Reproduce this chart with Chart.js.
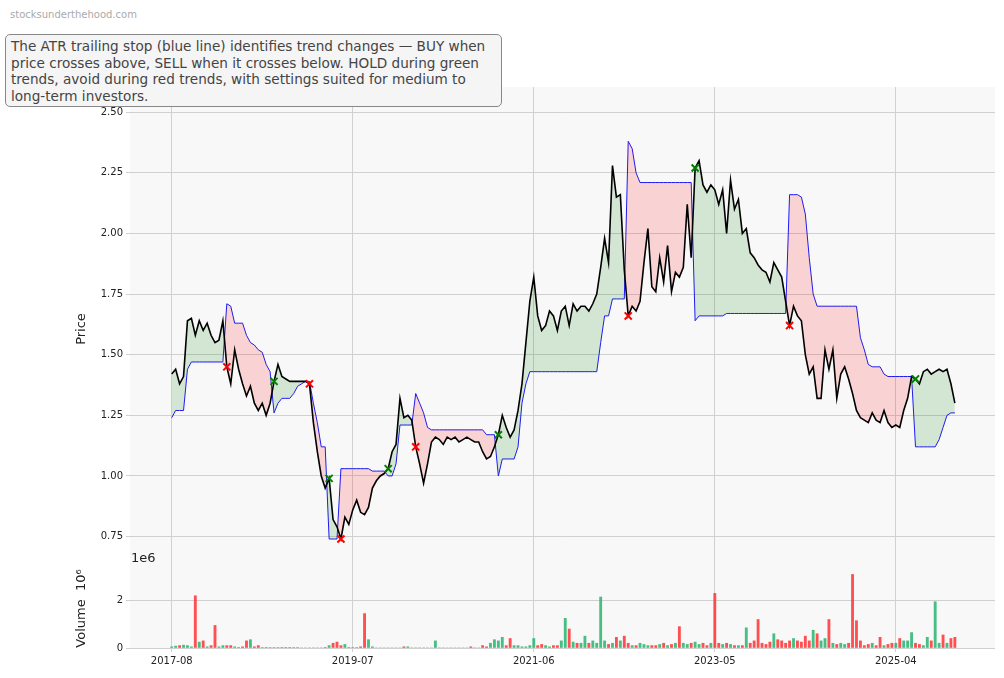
<!DOCTYPE html>
<html><head><meta charset="utf-8">
<script src="https://cdn.jsdelivr.net/npm/chart.js@4"></script>
<style>
body{margin:0;background:#fff;width:1004px;height:678px;position:relative;overflow:hidden;font-family:"DejaVu Sans",sans-serif}
#wm{position:absolute;left:10px;top:9px;font-size:10px;color:#aaa}
#note{position:absolute;left:5px;top:34px;width:485px;padding:3px 5px 2px 5px;border:1px solid #888;border-radius:5px;background:#f5f5f5;font-size:13.6px;line-height:16.5px;color:#444}
#e6{position:absolute;left:131px;top:550px;font-size:13px;color:#222}
canvas{position:absolute;left:0}
</style></head><body>
<div id="wm">stocksunderthehood.com</div>
<canvas id="pc" style="top:0" width="1004" height="580"></canvas>
<canvas id="vc" style="top:560px" width="1004" height="110"></canvas>
<div id="note">The ATR trailing stop (blue line) identifies trend changes — BUY when price crosses above, SELL when it crosses below. HOLD during green trends, avoid during red trends, with settings suited for medium to long-term investors.</div>
<div id="e6">1e6</div>
<script>
const tickLabels=['2017-08','2019-07','2021-06','2023-05','2025-04'];
const price=[1.42,1.44,1.38,1.41,1.64,1.65,1.58,1.64,1.60,1.63,
1.58,1.55,1.56,1.64,1.45,1.38,1.52,1.44,1.38,1.33,
1.37,1.30,1.27,1.30,1.25,1.30,1.39,1.46,1.41,1.40,
1.39,1.39,1.39,1.39,1.39,1.38,1.22,1.10,1.00,0.95,
0.99,0.82,0.79,0.74,0.83,0.80,0.86,0.90,0.85,0.84,
0.87,0.95,0.98,1.00,1.01,1.03,1.10,1.13,1.32,1.24,
1.25,1.23,1.12,1.05,0.97,1.05,1.14,1.16,1.15,1.13,
1.16,1.15,1.16,1.14,1.15,1.16,1.15,1.14,1.14,1.10,
1.07,1.08,1.12,1.17,1.25,1.20,1.16,1.19,1.27,1.38,
1.55,1.72,1.82,1.66,1.60,1.62,1.68,1.66,1.60,1.68,
1.70,1.62,1.71,1.68,1.70,1.70,1.68,1.71,1.75,1.86,
1.98,1.88,2.28,2.15,2.16,1.85,1.66,1.70,1.68,1.72,
1.88,2.02,1.78,1.76,1.90,1.80,1.95,1.76,1.84,1.82,
1.86,2.12,1.90,2.27,2.30,2.20,2.17,2.20,2.18,2.12,
2.18,2.00,2.22,2.10,2.14,2.00,2.02,1.92,1.90,1.87,
1.85,1.84,1.80,1.88,1.85,1.82,1.72,1.62,1.70,1.66,
1.64,1.50,1.42,1.45,1.32,1.32,1.52,1.44,1.52,1.32,
1.42,1.45,1.40,1.34,1.27,1.24,1.23,1.22,1.26,1.23,
1.22,1.27,1.22,1.20,1.21,1.20,1.27,1.32,1.41,1.40,
1.38,1.43,1.44,1.42,1.43,1.44,1.43,1.44,1.38,1.30];
const stop=[1.24,1.27,1.27,1.27,1.44,1.47,1.47,1.47,1.47,1.47,
1.47,1.47,1.47,1.47,1.71,1.70,1.63,1.63,1.63,1.58,
1.55,1.54,1.52,1.51,1.46,1.43,1.26,1.30,1.32,1.32,
1.32,1.34,1.37,1.38,1.39,1.39,1.30,1.22,1.12,1.12,
0.74,0.74,0.74,1.03,1.03,1.03,1.03,1.03,1.03,1.03,
1.03,1.02,1.02,1.02,1.02,1.00,1.00,1.05,1.21,1.21,
1.21,1.21,1.34,1.30,1.26,1.20,1.19,1.19,1.19,1.19,
1.19,1.19,1.19,1.19,1.19,1.19,1.19,1.19,1.19,1.19,
1.17,1.17,1.17,1.00,1.07,1.07,1.07,1.07,1.12,1.30,
1.38,1.43,1.43,1.43,1.43,1.43,1.43,1.43,1.43,1.43,
1.43,1.43,1.43,1.43,1.43,1.43,1.43,1.43,1.43,1.55,
1.66,1.66,1.73,1.73,1.73,1.73,2.38,2.35,2.25,2.21,
2.21,2.21,2.21,2.21,2.21,2.21,2.21,2.21,2.21,2.21,
2.21,2.21,2.21,1.64,1.66,1.66,1.66,1.66,1.66,1.66,
1.66,1.67,1.67,1.67,1.67,1.67,1.67,1.67,1.67,1.67,
1.67,1.67,1.67,1.67,1.67,1.67,1.67,2.16,2.16,2.16,
2.15,2.08,1.90,1.75,1.70,1.70,1.70,1.70,1.70,1.70,
1.70,1.70,1.70,1.70,1.70,1.57,1.52,1.46,1.45,1.45,
1.45,1.42,1.41,1.41,1.41,1.41,1.41,1.41,1.41,1.12,
1.12,1.12,1.12,1.12,1.12,1.15,1.20,1.25,1.26,1.26];
const volume=[0.05,0.08,0.1,0.12,0.1,0.05,2.2,0.25,0.3,0.05,
0.1,0.95,0.05,0.1,0.1,0.1,0.05,0.02,0.05,0.3,
0.35,0.05,0.1,0.02,0.02,0.02,0.02,0.02,0.02,0.02,
0.02,0.02,0.02,0,0,0,0,0,0,0.02,
0.1,0.2,0.25,0.1,0.15,0.02,0.02,0.02,0.05,1.45,
0.35,0.05,0,0,0,0,0,0,0,0.05,
0.05,0,0,0,0,0,0,0.3,0,0,
0,0,0,0,0,0,0.05,0,0,0.1,
0.05,0.2,0.35,0.3,0.45,0.1,0.4,0.1,0.1,0.05,
0.05,0.1,0.4,0.1,0.15,0.1,0.05,0.1,0.1,0.3,
1.25,0.8,0.25,0.2,0.2,0.5,0.2,0.3,0.2,2.15,
0.3,0.15,0.2,0.45,0.3,0.5,0.2,0.1,0.1,0.2,
0.15,0.1,0.1,0.1,0.15,0.2,0.1,0.15,0.2,0.9,
0.2,0.15,0.2,0.25,0.15,0.2,0.1,0.2,2.3,0.2,
0.15,0.2,0.15,0.1,0.1,0.1,0.85,0.2,0.3,1.2,
0.2,0.15,0.25,0.6,0.35,0.3,0.2,0.3,0.4,0.3,
0.25,0.5,0.3,0.75,0.6,0.3,0.4,1.2,0.2,0.15,
0.2,0.15,0.2,3.1,1.15,0.3,0.1,0.15,0.2,0.1,
0.45,0.1,0.15,0.2,0.2,0.4,0.3,0.3,0.65,0.2,
0.15,0.1,0.45,0.3,1.95,0.2,0.55,0.2,0.4,0.45];
const months=price.map((_,i)=>i*0.5);

const buys=[],sells=[];
for(let i=1;i<price.length;i++){
  const a=price[i-1]-stop[i-1],b=price[i]-stop[i];
  if(a<=0&&b>0)buys.push({x:months[i],y:price[i]});
  if(a>=0&&b<0)sells.push({x:months[i],y:price[i]});
}
Chart.defaults.font.family='"DejaVu Sans", sans-serif';
Chart.defaults.color='#222';
Chart.defaults.animation=false;
const bgPlugin={id:'bg',beforeDraw(c){const a=c.chartArea,x=c.ctx;x.save();x.fillStyle='#f8f8f8';x.fillRect(a.left,a.top,a.right-a.left,a.bottom-a.top);x.restore();}};
const xScale=(show)=>({type:'linear',offset:false,min:-5.3,max:104.6,
  afterBuildTicks(s){s.ticks=tickLabels.map((_,k)=>({value:k*23}));},
  ticks:{display:show,font:{size:10},maxRotation:0,callback:(v)=>tickLabels[Math.round(v/23)]},
  grid:{color:'#d0d0d0',offset:false,drawTicks:show,tickLength:4},border:{display:false}});
const fitY=(s)=>{s.width=58;};

new Chart(document.getElementById('pc'),{
  type:'line',
  data:{datasets:[
    {label:'price',data:months.map((m,i)=>({x:m,y:price[i]})),borderColor:'#000',borderWidth:1.6,pointRadius:0,
     fill:{target:1,above:'rgba(0,128,0,0.15)',below:'rgba(255,0,0,0.15)'},order:2},
    {label:'stop',data:months.map((m,i)=>({x:m,y:stop[i]})),borderColor:'#1a1aff',borderWidth:1,pointRadius:0,fill:false,order:3},
    {type:'scatter',data:buys,pointStyle:'crossRot',pointRadius:5,borderColor:'#008000',borderWidth:2,order:1},
    {type:'scatter',data:sells,pointStyle:'crossRot',pointRadius:5,borderColor:'#ff0000',borderWidth:2,order:1}
  ]},
  options:{responsive:false,layout:{padding:{top:87,right:9,left:72,bottom:0}},
    plugins:{legend:{display:false},tooltip:{enabled:false}},
    scales:{x:xScale(false),
      y:{min:0.608,max:2.604,afterFit:fitY,afterBuildTicks(s){s.ticks=[0.75,1,1.25,1.5,1.75,2,2.25,2.5].map(v=>({value:v}));},
        ticks:{font:{size:10},callback:v=>v.toFixed(2)},grid:{color:'#d0d0d0',tickLength:4},border:{display:false},
        title:{display:true,text:'Price',font:{size:13},padding:2}}}},
  plugins:[bgPlugin]
});
new Chart(document.getElementById('vc'),{
  type:'bar',
  data:{datasets:[{data:months.map((m,i)=>({x:m,y:volume[i]})),
    backgroundColor:price.map((p,i)=>i>0&&p<price[i-1]?'rgba(255,50,50,0.85)':'rgba(40,180,110,0.85)'),
    barThickness:2.2}]},
  options:{responsive:false,layout:{padding:{top:3,right:9,left:72,bottom:0}},
    plugins:{legend:{display:false},tooltip:{enabled:false}},
    scales:{x:xScale(true),
      y:{min:0,max:3.33,afterFit:fitY,afterBuildTicks(s){s.ticks=[0,2].map(v=>({value:v}));},
        ticks:{font:{size:10}},grid:{color:'#d0d0d0',tickLength:4},border:{display:false},
        title:{display:true,text:'Volume  10⁶',font:{size:13},padding:2}}}},
  plugins:[bgPlugin]
});
</script></body></html>
